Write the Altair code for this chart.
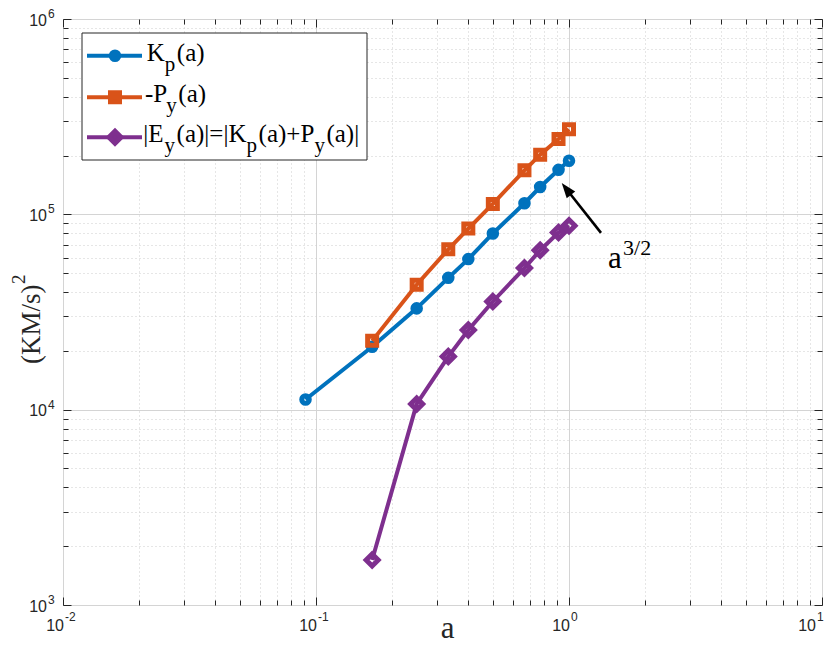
import altair as alt
import pandas as pd

# ---------------- data ----------------
a_kp = [0.0909, 0.1667, 0.25, 0.3333, 0.4, 0.5, 0.6667, 0.7692, 0.9091, 1.0]
kp = [11270, 21000, 33000, 47300, 59000, 79800, 114000, 138000, 169000, 188000]

a_py = [0.1667, 0.25, 0.3333, 0.4, 0.5, 0.6667, 0.7692, 0.9091, 1.0]
py = [22500, 43600, 66200, 84500, 113000, 168000, 202000, 243000, 273000]

a_ey = [0.1667, 0.25, 0.3333, 0.4, 0.5, 0.6667, 0.7692, 0.9091, 1.0]
ey = [1700, 10700, 18700, 25600, 35800, 53100, 65500, 80700, 87500]

x_ticks = [0.01, 0.02, 0.03, 0.04, 0.05, 0.06, 0.07, 0.08, 0.09,
           0.1, 0.2, 0.3, 0.4, 0.5, 0.6, 0.7, 0.8, 0.9,
           1, 2, 3, 4, 5, 6, 7, 8, 9, 10]
y_ticks = [1000, 2000, 3000, 4000, 5000, 6000, 7000, 8000, 9000,
           10000, 20000, 30000, 40000, 50000, 60000, 70000, 80000, 90000,
           100000, 200000, 300000, 400000, 500000, 600000, 700000, 800000, 900000,
           1000000]
x_major = [0.01, 0.1, 1, 10]
x_exp = ["-2", "-1", "0", "1"]
y_major = [1000, 10000, 100000, 1000000]
y_exp = ["3", "4", "5", "6"]

# annotation (data coordinates)
arrow_tip = [0.936, 144600]
arrow_shaft_end = [0.978, 134300]
arrow_tail = [1.338, 80400]
ann_base = [1.426, 52900]
ann_sup = [1.635, 61800]

# ---------------- styling ----------------
W, H = 759, 586
BLUE, ORANGE, PURPLE = "#0072BD", "#D95319", "#7E2F8E"
AX = "#262626"
SERIF = "Liberation Serif"
SANS = "Liberation Sans"
MAJOR = "abs(log(datum.value)/LN10 - round(log(datum.value)/LN10)) < 0.001"

xs = alt.Scale(type="log", domain=[0.01, 10])
ys = alt.Scale(type="log", domain=[1000, 1000000])

kp_df = pd.DataFrame({"a": a_kp, "v": kp})
py_df = pd.DataFrame({"a": a_py, "v": py})
ey_df = pd.DataFrame({"a": a_ey, "v": ey})
one = pd.DataFrame({"k": [0]})


def cond(major, minor):
    return {"condition": {"test": MAJOR, "value": major}, "value": minor}


def carrier(xaxis, yaxis):
    return alt.Chart(kp_df).mark_point(opacity=0).encode(
        x=alt.X("a:Q", scale=xs, axis=xaxis),
        y=alt.Y("v:Q", scale=ys, axis=yaxis),
    )


grid_x = alt.Axis(orient="bottom", values=x_ticks, grid=True,
                  gridDash=cond([], [1, 3]), gridColor=cond("#d4d4d4", "#cccccc"),
                  gridWidth=1, ticks=False, labels=False, domain=False, title=None)
grid_y = alt.Axis(orient="left", values=y_ticks, grid=True,
                  gridDash=cond([], [1, 3]), gridColor=cond("#d4d4d4", "#cccccc"),
                  gridWidth=1, ticks=False, labels=False, domain=False, title=None)


def tick_axis(orient, values, offset):
    return alt.Axis(orient=orient, offset=offset, values=values, grid=False,
                    ticks=True, tickSize=cond(8, 5), tickColor=AX, tickWidth=1,
                    labels=False, domain=False, title=None)


layers = [
    carrier(grid_x, grid_y),
    carrier(tick_axis("top", x_ticks, -H), tick_axis("right", y_ticks, -W)),
    carrier(tick_axis("bottom", x_ticks, -H), tick_axis("left", y_ticks, -W)),
]


def enc(df):
    return dict(x=alt.X("a:Q", scale=xs, axis=None), y=alt.Y("v:Q", scale=ys, axis=None))


def series(df, color, shape, size):
    line = alt.Chart(df).mark_line(color=color, strokeWidth=4).encode(**enc(df))
    pts = alt.Chart(df).mark_point(shape=shape, size=size, filled=False, color=color,
                                   strokeWidth=5, opacity=1).encode(**enc(df))
    return [line, pts]


layers += series(kp_df, BLUE, "circle", 57)
layers += series(py_df, ORANGE, "square", 81)
layers += series(ey_df, PURPLE, "diamond", 144)

# arrow annotation
shaft_df = pd.DataFrame({"a": [arrow_tail[0]], "v": [arrow_tail[1]],
                         "a2": [arrow_shaft_end[0]], "v2": [arrow_shaft_end[1]]})
layers.append(alt.Chart(shaft_df).mark_rule(color="black", strokeWidth=2.6).encode(
    x=alt.X("a:Q", scale=xs, axis=None), y=alt.Y("v:Q", scale=ys, axis=None),
    x2="a2:Q", y2="v2:Q"))
head_df = pd.DataFrame({"a": [arrow_tip[0]], "v": [arrow_tip[1]]})
layers.append(alt.Chart(head_df).mark_point(
    shape="M0,0L0.36,1L-0.36,1Z", size=900, filled=True, color="black",
    strokeWidth=0, opacity=1, angle=322).encode(**enc(head_df)))
base_df = pd.DataFrame({"a": [ann_base[0]], "v": [ann_base[1]]})
layers.append(alt.Chart(base_df).mark_text(
    align="left", baseline="alphabetic", font=SERIF, fontSize=31, color="black").encode(
    **enc(base_df), text=alt.value("a")))
sup_df = pd.DataFrame({"a": [ann_sup[0]], "v": [ann_sup[1]]})
layers.append(alt.Chart(sup_df).mark_text(
    align="left", baseline="alphabetic", font=SERIF, fontSize=22, color="black").encode(
    **enc(sup_df), text=alt.value("3/2")))

# tick labels
xl = pd.DataFrame({"v": x_major, "e": x_exp})
for filt, shift in (("datum.v < 5", 0), ("datum.v > 5", -7)):
    layers.append(alt.Chart(xl).transform_filter(filt).mark_text(
        align="right", baseline="alphabetic", font=SANS, fontSize=16, dx=1 + shift,
        color=AX).encode(
        x=alt.X("v:Q", scale=xs, axis=None), y=alt.value(H + 26), text=alt.value("10")))
    layers.append(alt.Chart(xl).transform_filter(filt).mark_text(
        align="left", baseline="alphabetic", font=SANS, fontSize=12, dx=2 + shift,
        color=AX).encode(
        x=alt.X("v:Q", scale=xs, axis=None), y=alt.value(H + 16), text="e:N"))
yl = pd.DataFrame({"v": y_major, "e": y_exp})
layers.append(alt.Chart(yl).mark_text(align="right", baseline="alphabetic", font=SANS,
                                      fontSize=16, dy=6.5, color=AX).encode(
    y=alt.Y("v:Q", scale=ys, axis=None), x=alt.value(-16), text=alt.value("10")))
layers.append(alt.Chart(yl).mark_text(align="left", baseline="alphabetic", font=SANS,
                                      fontSize=12, dy=-1, color=AX).encode(
    y=alt.Y("v:Q", scale=ys, axis=None), x=alt.value(-15), text="e:N"))

# axis titles
layers.append(alt.Chart(one).mark_text(align="center", baseline="alphabetic", font=SERIF,
                                       fontSize=31, color=AX).encode(
    x=alt.value(W / 2 + 5), y=alt.value(H + 33), text=alt.value("a")))
layers.append(alt.Chart(one).mark_text(align="left", baseline="alphabetic", font=SERIF,
                                       fontSize=27, angle=270, color=AX).encode(
    x=alt.value(-23), y=alt.value(H / 2 + 52), text=alt.value("(KM/s)")))
layers.append(alt.Chart(one).mark_text(align="left", baseline="alphabetic", font=SERIF,
                                       fontSize=19, angle=270, color=AX).encode(
    x=alt.value(-38), y=alt.value(H / 2 - 28), text=alt.value("2")))

# legend
layers.append(alt.Chart(one).mark_rect(fill="white", stroke=AX, strokeWidth=1).encode(
    x=alt.value(19), x2=alt.value(304), y=alt.value(14), y2=alt.value(141)))
rows = [(BLUE, "circle", 57, 36.7), (ORANGE, "square", 81, 78.3), (PURPLE, "diamond", 144, 118.3)]
for color, shape, size, yy in rows:
    layers.append(alt.Chart(one).mark_rule(color=color, strokeWidth=4).encode(
        x=alt.value(24), x2=alt.value(79), y=alt.value(yy)))
    layers.append(alt.Chart(one).mark_point(shape=shape, size=size, filled=True, color=color,
                                            strokeWidth=5, stroke=color, opacity=1).encode(
        x=alt.value(52), y=alt.value(yy)))


def txt(x, y, s, size):
    return alt.Chart(one).mark_text(align="left", baseline="alphabetic", font=SERIF,
                                    fontSize=size, color="black").encode(
        x=alt.value(x), y=alt.value(y), text=alt.value(s))


MAIN, SUB = 25, 21
b1, b2, b3 = 41.7, 83.3, 123.3
layers += [txt(83.7, b1, "K", MAIN), txt(101.8, b1 + 10, "p", SUB), txt(113.8, b1, "(a)", MAIN)]
layers += [txt(82, b2, "-P", MAIN), txt(103.3, b2 + 10, "y", SUB), txt(115.3, b2, "(a)", MAIN)]
layers += [txt(80.3, b3, "|E", MAIN), txt(101.6, b3 + 10, "y", SUB),
           txt(113.6, b3, "(a)|=|K", MAIN), txt(183.6, b3 + 10, "p", SUB),
           txt(195.6, b3, "(a)+P", MAIN), txt(251.4, b3 + 10, "y", SUB),
           txt(263.4, b3, "(a)|", MAIN)]

chart = alt.layer(*layers).resolve_scale(x="shared", y="shared").resolve_axis(
    x="independent", y="independent").properties(
    width=W, height=H,
    padding={"left": 55, "top": 11, "right": 3, "bottom": 41},
    autosize=alt.AutoSizeParams(type="none"),
    background="white",
).configure_view(stroke=AX, strokeWidth=1)

chart.save("out.html", embed_options={"renderer": "svg", "actions": False})
